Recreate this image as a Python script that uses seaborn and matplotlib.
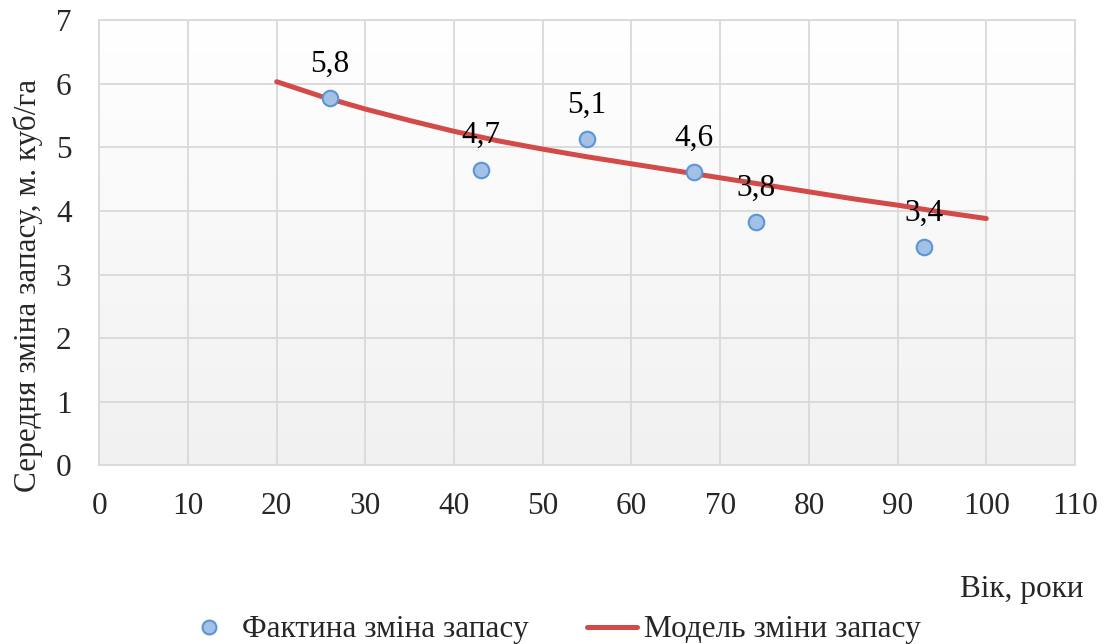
import numpy as np
import pandas as pd
import matplotlib
matplotlib.use("Agg")
import matplotlib.pyplot as plt
from matplotlib.lines import Line2D
import seaborn as sns

sns.set_theme(style="white")
plt.rcParams['font.family'] = ['Liberation Serif', 'DejaVu Serif']

# actual points
age = [26, 43, 55, 67, 74, 93]
stock_change = [5.77, 4.65, 5.13, 4.61, 3.82, 3.43]
point_labels = ["5,8", "4,7", "5,1", "4,6", "3,8", "3,4"]

# model curve
model_age = [20, 25, 30, 35, 40, 45, 50, 55, 60, 65, 70, 75, 80, 85, 90, 95, 100]
model_value = [6.03, 5.80, 5.60, 5.42, 5.25, 5.10, 4.97, 4.85, 4.74, 4.63, 4.52, 4.41, 4.30, 4.19, 4.09, 3.98, 3.88]

x_ticks = [0, 10, 20, 30, 40, 50, 60, 70, 80, 90, 100, 110]
y_ticks = [0, 1, 2, 3, 4, 5, 6, 7]

pts = pd.DataFrame({"age": age, "value": stock_change})
model = pd.DataFrame({"age": model_age, "value": model_value})

FS = 22.5

fig = plt.figure(figsize=(11.12, 6.44), dpi=100)
ax = fig.add_axes([0.0893, 0.2772, 0.8774, 0.6918])

# gradient background of the plot area
grad = np.linspace(1.0, 0.945, 256).reshape(-1, 1)
ax.imshow(np.dstack([grad, grad, grad]), extent=[0, 110, 0, 7], aspect="auto",
          origin="upper", zorder=0)

sns.lineplot(data=model, x="age", y="value", ax=ax, color="#d24b48", linewidth=3.6,
             zorder=3, legend=False)
sns.scatterplot(data=pts, x="age", y="value", ax=ax, s=125, color="#a3c1e6",
                edgecolor="#5b95d3", linewidth=1.5, zorder=4, legend=False)

for xv, yv, lab in zip(age, stock_change, point_labels):
    ax.annotate(lab, (xv, yv), xytext=(0, 19), textcoords="offset points",
                ha="center", va="baseline", fontsize=FS, color="black", zorder=5)

ax.set_xlim(0, 110)
ax.set_ylim(0, 7)
ax.set_xticks(x_ticks)
ax.set_yticks(y_ticks)
ax.grid(True, color="#d9d9d9", linewidth=1.3, zorder=1)
ax.set_axisbelow(True)
for sp in ax.spines.values():
    sp.set_color("#d9d9d9")
    sp.set_linewidth(1.3)
ax.tick_params(axis="x", length=0, pad=19, labelsize=FS)
ax.tick_params(axis="y", length=0, pad=20, labelsize=FS)

ax.set_xlabel("")
ax.set_ylabel("Середня зміна запасу, м. куб/га", fontsize=FS)
ax.yaxis.set_label_coords(-0.058, 0.405)

fig.text(1083 / 1112, 1 - 590 / 644, "Вік, роки", ha="right", va="center", fontsize=FS)

handles = [
    Line2D([], [], linestyle="none", marker="o", markersize=10, markerfacecolor="#a3c1e6",
           markeredgecolor="#5b95d3", markeredgewidth=1.5),
    Line2D([], [], color="#d24b48", linewidth=3.6),
]
fig.legend(handles, ["Фактина зміна запасу", "Модель зміни запасу"], loc="center",
           bbox_to_anchor=(0.497, 1 - 630 / 644), ncol=2, frameon=False, fontsize=FS,
           columnspacing=1.85, handlelength=1.6, handletextpad=0.25)

fig.savefig("out.png", dpi=100)
